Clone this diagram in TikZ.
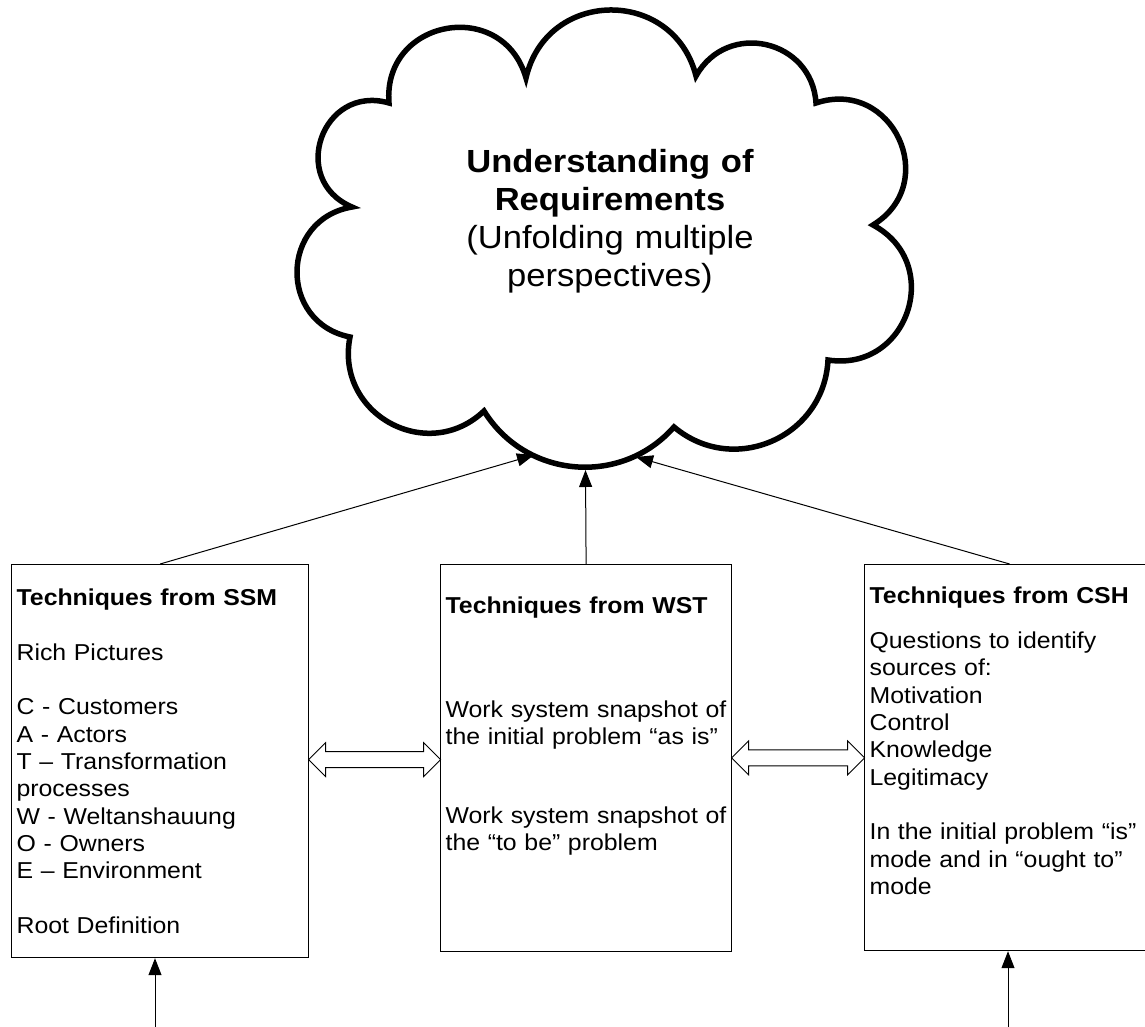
\documentclass[tikz,border=0pt]{standalone}
\usepackage{fontspec}
\setmainfont{Liberation Sans}[FakeStretch=1.08]
\usetikzlibrary{arrows.meta,shapes.arrows,positioning,calc}

\tikzset{
  box/.style={draw, line width=1.2pt, anchor=north west, align=left,
    inner xsep=5pt, inner ysep=0pt, font=\fontsize{23}{27.3}\selectfont},
  conn/.style={line width=1pt, -{Triangle[length=17pt,width=13pt]}},
  dblarrow/.style={shape=double arrow, draw, line width=0.9pt, inner xsep=0pt,
    inner ysep=7.5pt, double arrow head extend=9pt, double arrow tip angle=90},
  cloudline/.style={line width=5.5pt}
}

\begin{document}
\begin{tikzpicture}[x=1pt,y=-1pt]
  \clip (0,0) rectangle (1145,1027);
  \fill[white] (0,0) rectangle (1145,1027);
  % the cloud
  \draw[cloudline] (389,103) .. controls (382.3,18.9) and (502.7,-3.1) .. (526,78)
    .. controls (546.4,-11.6) and (673.4,-13.1) .. (696,76)
    .. controls (727.1,20.2) and (811.9,39.2) .. (816,103)
    .. controls (892.4,77.6) and (941.6,182.8) .. (873,225)
    .. controls (944.6,263.3) and (908.2,372.3) .. (828,360)
    .. controls (824.1,437.4) and (733.3,476.8) .. (674,427)
    .. controls (621.3,486.7) and (525.9,478.7) .. (484,411)
    .. controls (427.1,464.8) and (334.7,413.8) .. (350,337)
    .. controls (278.2,322.5) and (279.8,219.3) .. (352,207)
    .. controls (288.1,179.9) and (322.3,83.7) .. cycle;
  \node[font=\fontsize{32}{38}\selectfont, text width=330pt, align=center, anchor=base] (req) at (610,173)
    {\textbf{Understanding of}\\ \textbf{Requirements}\\ (Unfolding multiple\\ perspectives)};
  \coordinate (cl) at (534,455);
  \coordinate (cm) at (585.5,470);
  \coordinate (cr) at (636,457);

  % the three boxes
  \node[box, text width=287pt, text height=41pt, text depth=352pt] (ssm) at (11,564)
    {\textbf{Techniques from SSM}\\[27.3pt]
     Rich Pictures\\[27.3pt]
     C - Customers\\
     A - Actors\\
     T – Transformation\\
     processes\\
     W - Weltanshauung\\
     O - Owners\\
     E – Environment\\[27.3pt]
     Root Definition};
  \node[box, text width=281pt, text height=49pt, text depth=338pt] (wst) at (440,564)
    {\textbf{Techniques from WST}\\[76.7pt]
     Work system snapshot of\\
     the initial problem “as is”\\[51.4pt]
     Work system snapshot of\\
     the “to be” problem};
  \node[box, text width=280pt, text height=39pt, text depth=347pt] (csh) at (864,564)
    {\textbf{Techniques from CSH}\\[17.7pt]
     Questions to identify\\
     sources of:\\
     Motivation\\
     Control\\
     Knowledge\\
     Legitimacy\\[27.3pt]
     In the initial problem “is”\\
     mode and in “ought to”\\
     mode};

  \node[dblarrow, minimum height=132pt] (ssmwst) at ($(ssm.east)!0.5!(wst.west)$) {};
  \node[dblarrow, minimum height=133pt] (wstcsh) at ($(wst.east)!0.5!(csh.west)$) {};

  \draw[conn] (ssm.north) -- (cl);
  \draw[conn] (wst.north) -- (cm);
  \draw[conn] (csh.north) -- (cr);

  \coordinate (ssmin) at (155,1027);
  \coordinate (cshin) at (1008,1027);
  \draw[conn] (ssmin) -- (ssmin |- ssm.south);
  \draw[conn] (cshin) -- (cshin |- csh.south);
\end{tikzpicture}
\end{document}
